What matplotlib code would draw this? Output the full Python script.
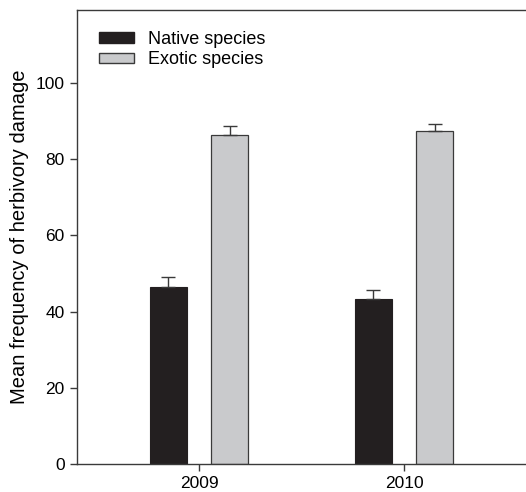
import numpy as np
import matplotlib.pyplot as plt
from matplotlib.patches import Patch

plt.rcParams['font.family'] = ['Liberation Sans', 'DejaVu Sans']

years = ['2009', '2010']
native_mean = [46.5, 43.3]
native_se = [2.7, 2.4]
exotic_mean = [86.4, 87.5]
exotic_se = [2.4, 1.7]

x = np.arange(len(years))
w = 0.18
off = 0.149

fig = plt.figure(figsize=(5.26, 4.92), dpi=100)
ax = fig.add_axes([77 / 526, 28 / 492, 1.0, 454 / 492])

edge = '#3a3a3a'
ax.bar(x - off, native_mean, w, color='#231f20', edgecolor='#231f20', linewidth=0.8,
       yerr=[np.zeros(2), native_se], error_kw=dict(ecolor=edge, capsize=5, elinewidth=1, capthick=1))
ax.bar(x + off, exotic_mean, w, color='#c9cacc', edgecolor=edge, linewidth=0.9,
       yerr=[np.zeros(2), exotic_se], error_kw=dict(ecolor=edge, capsize=5, elinewidth=1, capthick=1))

ax.set_xlim(-0.595, 1.595 + (0.595 + 1.595) * (1 - 449 / 526) / (449 / 526))
ax.set_ylim(0, 119.2)
ax.set_xticks(x)
ax.set_xticklabels(years)
ax.set_yticks([0, 20, 40, 60, 80, 100])
ax.tick_params(direction='out', length=5, width=1, color=edge, labelsize=12.5, pad=4)
for s in ['left', 'bottom', 'top']:
    ax.spines[s].set_color(edge)
    ax.spines[s].set_linewidth(1)
ax.spines['right'].set_visible(False)
ax.set_ylabel('Mean frequency of herbivory damage', fontsize=14.5, labelpad=5)

handles = [Patch(facecolor='#231f20', edgecolor='#231f20', label='Native species'),
           Patch(facecolor='#c9cacc', edgecolor=edge, label='Exotic species')]
ax.legend(handles=handles, loc='upper left', bbox_to_anchor=(0.01, 0.99), frameon=False,
          fontsize=13, handlelength=1.95, handleheight=0.55, handletextpad=0.8, labelspacing=0.2)

fig.savefig('out.png', dpi=100)
